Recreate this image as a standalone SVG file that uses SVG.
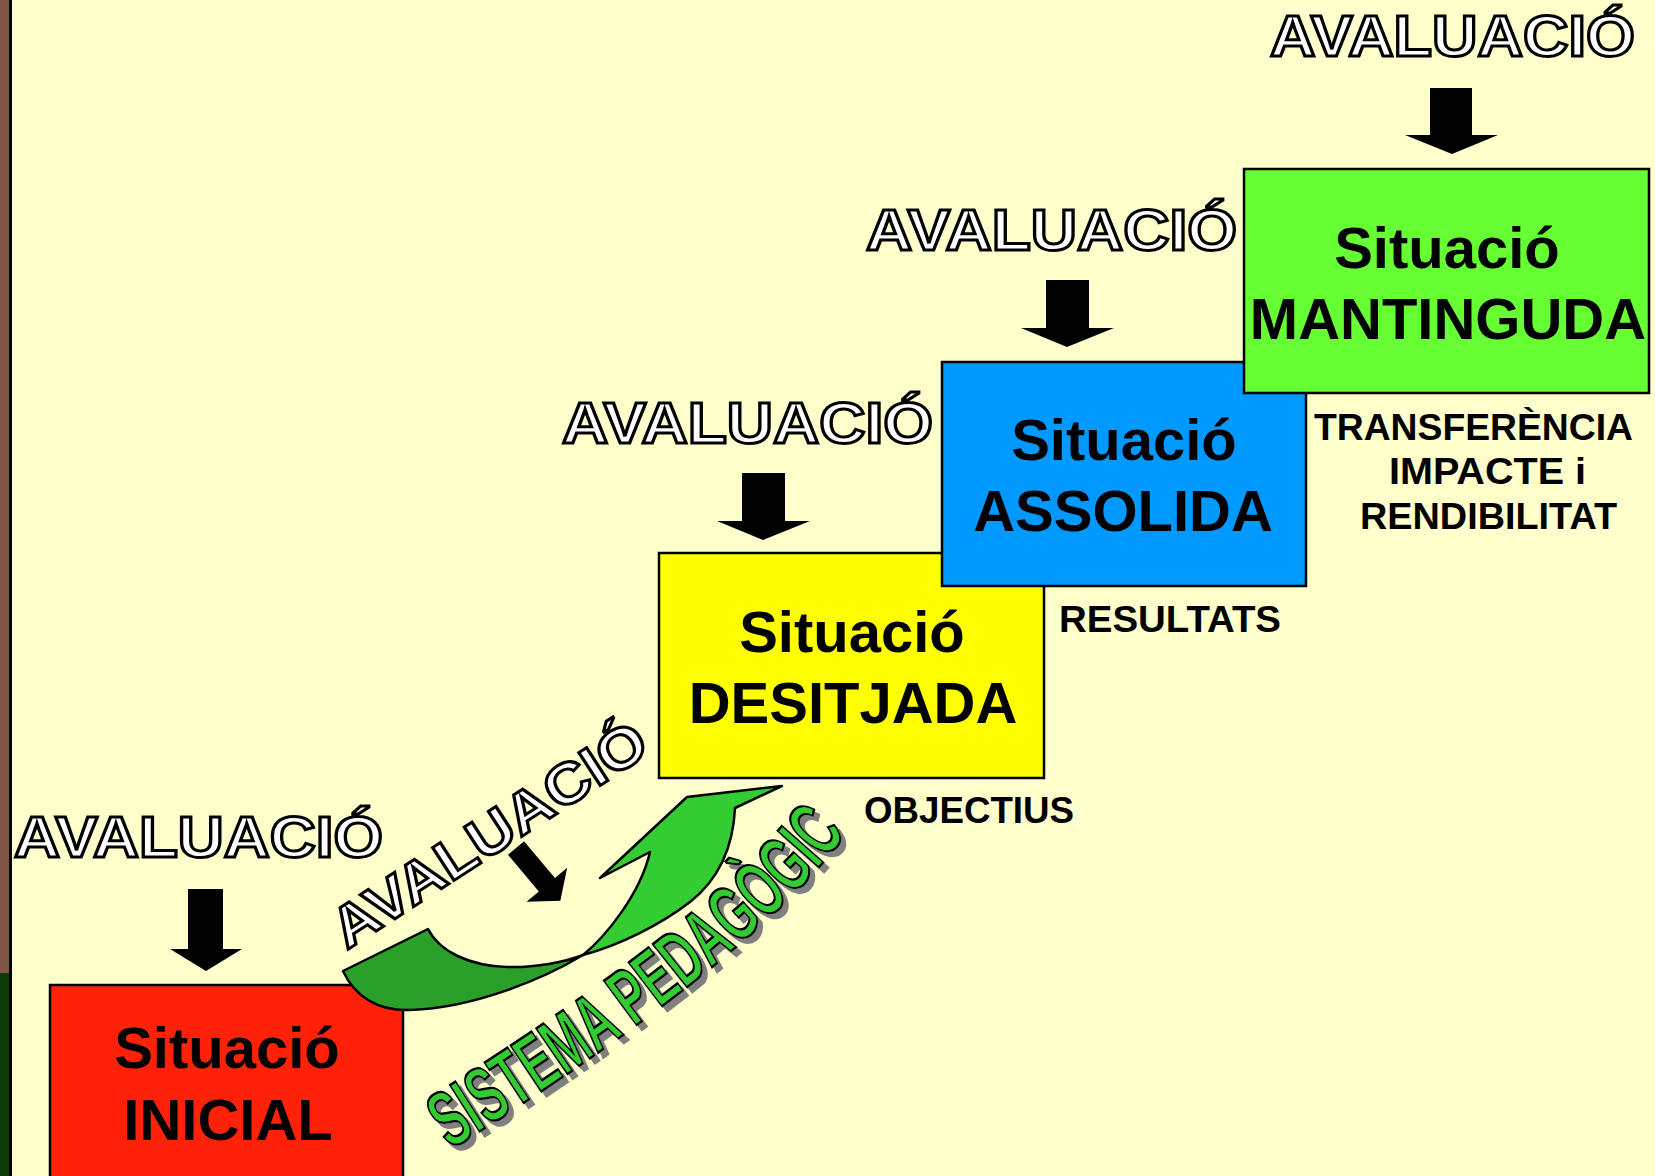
<svg xmlns="http://www.w3.org/2000/svg" xmlns:xlink="http://www.w3.org/1999/xlink" width="1655" height="1176" viewBox="0 0 1655 1176">
<style>
.box{stroke:#000;stroke-width:2.5}
.lbl{font-family:"Liberation Sans",Arial,sans-serif;font-weight:bold;font-size:58px;fill:#000;text-anchor:middle}
.side{font-family:"Liberation Sans",Arial,sans-serif;font-weight:bold;font-size:36px;fill:#000}
.eval{font-family:"Liberation Sans",Arial,sans-serif;font-weight:bold;font-size:57px;fill:#fff;stroke:#000;stroke-width:3}
.arr{fill:#000}
.sp{font-family:"Liberation Sans",Arial,sans-serif;font-weight:bold;font-size:80px;fill:#33CC33;stroke:#000;stroke-width:2.5}
.gd{fill:#2A9F2A;stroke:#000;stroke-width:2.5;stroke-linejoin:round}
.gl{fill:#33CC33;stroke:#000;stroke-width:2.5;stroke-linejoin:round}
</style>
<defs>
<filter id="shadow" filterUnits="userSpaceOnUse" x="380" y="740" width="560" height="460">
<feOffset in="SourceAlpha" dx="5" dy="5" result="o"/>
<feFlood flood-color="#808080"/>
<feComposite in2="o" operator="in" result="s"/>
<feMerge><feMergeNode in="s"/><feMergeNode in="SourceGraphic"/></feMerge>
</filter>
<path id="spPath" d="M450,1150 Q755,960 849,830"/>
</defs>
<rect x="0" y="0" width="1655" height="1176" fill="#FFFFCC"/>
<rect x="0" y="0" width="9" height="973" fill="#7E5646"/>
<rect x="0" y="973" width="9" height="203" fill="#0B3B0B"/>
<rect x="9" y="0" width="3" height="1176" fill="#000"/>

<g id="node-inicial">
<rect class="box" x="50" y="985" width="353" height="200" fill="#FF2208"/>
<text class="lbl" x="227" y="1068">Situació</text>
<text class="lbl" x="228" y="1140">INICIAL</text>
</g>
<g id="node-desitjada">
<rect class="box" x="659" y="553" width="385" height="225" fill="#FFFF00"/>
<text class="lbl" x="852" y="652">Situació</text>
<text class="lbl" x="853" y="723">DESITJADA</text>
</g>
<g id="node-assolida">
<rect class="box" x="942" y="362" width="364" height="224" fill="#0099FF"/>
<text class="lbl" x="1124" y="460">Situació</text>
<text class="lbl" x="1123" y="531">ASSOLIDA</text>
</g>
<g id="node-mantinguda">
<rect class="box" x="1244" y="169" width="405" height="224" fill="#66FF33"/>
<text class="lbl" x="1447" y="268">Situació</text>
<text class="lbl" x="1448" y="339">MANTINGUDA</text>
</g>

<g id="labels">
<text class="side" x="864" y="823" textLength="210" lengthAdjust="spacingAndGlyphs">OBJECTIUS</text>
<text class="side" x="1059" y="632" textLength="222" lengthAdjust="spacingAndGlyphs">RESULTATS</text>
<text class="side" x="1314" y="440" textLength="319" lengthAdjust="spacingAndGlyphs">TRANSFERÈNCIA</text>
<text class="side" x="1389" y="484" textLength="197" lengthAdjust="spacingAndGlyphs">IMPACTE i</text>
<text class="side" x="1360" y="529" textLength="257" lengthAdjust="spacingAndGlyphs">RENDIBILITAT</text>
</g>

<g id="evaluations">
<text class="eval" x="1270" y="56" textLength="365" lengthAdjust="spacingAndGlyphs">AVALUACIÓ</text>
<text class="eval" x="866" y="250" textLength="371" lengthAdjust="spacingAndGlyphs">AVALUACIÓ</text>
<text class="eval" x="562" y="443" textLength="371" lengthAdjust="spacingAndGlyphs">AVALUACIÓ</text>
<text class="eval" x="14" y="857" textLength="369" lengthAdjust="spacingAndGlyphs">AVALUACIÓ</text>
<text class="eval" x="0" y="0" transform="translate(347,950) rotate(-33)" textLength="364" lengthAdjust="spacingAndGlyphs">AVALUACIÓ</text>
</g>

<g id="connectors">
<polygon class="arr" points="1430,88 1472,88 1472,135 1498,135 1452,154 1405,135 1430,135"/>
<polygon class="arr" points="1046,280 1089,280 1089,328 1114,328 1067,347 1021,328 1046,328"/>
<polygon class="arr" points="742,473 785,473 785,521 810,521 763,540 717,521 742,521"/>
<polygon class="arr" points="188,889 223,889 223,949 242,949 206,971 170,949 188,949"/>
<polygon class="arr" transform="translate(516,848) rotate(-40)" points="-10.5,0 10.5,0 10.5,48 26.5,48 0,69 -26.5,48 -10.5,48"/>
<path class="gd" d="M343,971 L428,929 C440,952 470,966 507,967 C535,968 565,962 583,955 C545,978 475,1008 410,1010 C378,1011 355,997 343,971 Z"/>
<path class="gl" d="M583,955 C605,937 640,895 650,852 L600,878 L687,797 L782,786 L735,808 C733,850 718,880 690,902 C660,925 620,945 583,955 Z"/>
</g>

<g id="sistema">
<text class="sp" filter="url(#shadow)"><textPath xlink:href="#spPath" textLength="510" lengthAdjust="spacingAndGlyphs">SISTEMA PEDAGÒGIC</textPath></text>
</g>
</svg>
